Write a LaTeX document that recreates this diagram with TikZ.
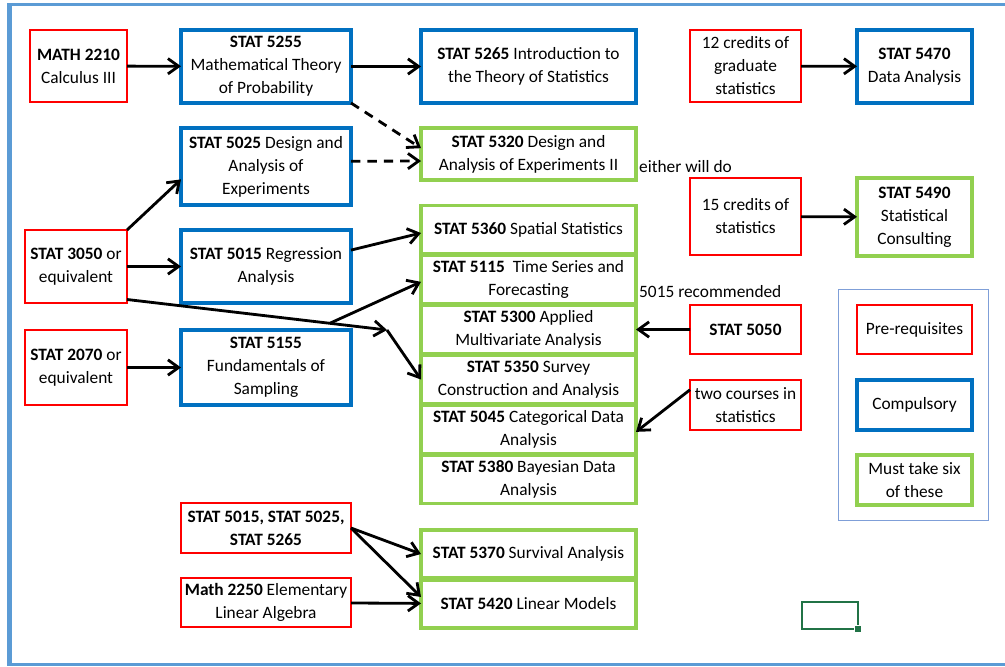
\documentclass[tikz,border=0pt]{standalone}
\usepackage{fontspec}
\setmainfont{Carlito}
\usetikzlibrary{arrows.meta,positioning,calc}

\definecolor{prered}{HTML}{FF0000}
\definecolor{coreblue}{HTML}{0070C0}
\definecolor{electgreen}{HTML}{92D050}
\definecolor{pageblue}{HTML}{5B9BD5}
\definecolor{keyblue}{HTML}{7F9FD8}
\definecolor{cellgreen}{HTML}{217346}

\begin{document}
\begin{tikzpicture}[
        x=0.03cm, y=-0.03cm,
        node distance=0.06cm,
        every node/.style={align=center, inner sep=1pt, outer sep=0pt, font=\fontsize{14.8}{19.6}\selectfont},
        prereq/.style={draw=prered, line width=2.1pt, minimum width=3.33cm},
        course/.style={draw=coreblue, line width=3pt, minimum width=5.1cm},
        elective/.style={draw=electgreen, line width=3pt, minimum width=6.45cm, minimum height=1.44cm},
        req/.style={-{Straight Barb[length=3.2mm,width=4.6mm]}, line width=2.4pt},
        maybe/.style={req, dash pattern=on 8pt off 6pt}
    ]
    \useasboundingbox (0,0) rectangle (1005,666);

    % page frame
    \draw[pageblue, line width=2.5pt] (7,4.5) -- (1005,4.5);
    \draw[pageblue, line width=3.8pt] (9.5,3) -- (9.5,666);
    \draw[pageblue, line width=2.2pt] (7,664.5) -- (1005,664.5);

    % Nodes
    \node[prereq, minimum width=2.91cm, minimum height=2.16cm] (m2210) at (78.5,66) {\textbf{MATH 2210}\\Calculus III};
    \node[course, minimum height=2.19cm] (s5255) at (266,66.5) {\textbf{STAT 5255}\\Mathematical Theory\\of Probability};
    \node[course, minimum width=6.45cm, minimum height=2.19cm] (s5265) at (528.5,66.5) {\textbf{STAT 5265} Introduction to\\the Theory of Statistics};
    \node[prereq, minimum height=2.16cm] (grad12) at (745.5,66) {12 credits of\\graduate\\statistics};
    \node[course, minimum width=3.45cm, minimum height=2.19cm] (s5470) at (914.5,66.5) {\textbf{STAT 5470}\\Data Analysis};

    \node[course, minimum height=2.31cm] (s5025) at (266,166.5) {\textbf{STAT 5025} Design and\\Analysis of\\Experiments};
    \node[elective, minimum height=1.56cm] (s5320) at (528.5,154) {\textbf{STAT 5320} Design and\\Analysis of Experiments II};
    \node[anchor=west] (either) at (638,167) {either will do};
    \node[prereq, minimum height=2.31cm] (stat15) at (745.5,216.5) {15 credits of\\statistics};
    \node[elective, minimum width=3.45cm, minimum height=2.34cm] (s5490) at (914.5,217) {\textbf{STAT 5490}\\Statistical\\Consulting};

    \node[prereq, minimum width=3.06cm, minimum height=2.19cm] (s3050) at (76,266.5) {\textbf{STAT 3050} or\\equivalent};
    \node[course, minimum height=2.19cm] (s5015) at (266,266.5) {\textbf{STAT 5015} Regression\\Analysis};

    % the six electives
    \node[elective] (s5360) at (528.5,229.5) {\textbf{STAT 5360} Spatial Statistics};
    \node[elective, below=of s5360] (s5115) {\textbf{STAT 5115}~ Time Series and\\Forecasting};
    \node[elective, below=of s5115] (s5300) {\textbf{STAT 5300} Applied\\Multivariate Analysis};
    \node[elective, below=of s5300] (s5350) {\textbf{STAT 5350} Survey\\Construction and Analysis};
    \node[elective, below=of s5350] (s5045) {\textbf{STAT 5045} Categorical Data\\Analysis};
    \node[elective, below=of s5045] (s5380) {\textbf{STAT 5380} Bayesian Data\\Analysis};

    \node[anchor=west] (rec) at (638,292) {5015 recommended};
    \node[prereq, minimum height=1.47cm] (s5050) at (745.5,329.5) {\textbf{STAT 5050}};

    \node[prereq, minimum width=3.06cm, minimum height=2.25cm] (s2070) at (76,367.5) {\textbf{STAT 2070} or\\equivalent};
    \node[course, minimum height=2.25cm] (s5155) at (266,367.5) {\textbf{STAT 5155}\\Fundamentals of\\Sampling};
    \node[prereq, minimum height=1.5cm] (two) at (745.5,405) {two courses in\\statistics};

    \node[prereq, minimum width=5.1cm, minimum height=1.5cm] (anyof) at (266,528) {\textbf{STAT 5015, STAT 5025,}\\\textbf{STAT 5265}};
    \node[prereq, minimum width=5.1cm, minimum height=1.47cm] (m2250) at (266,602.5) {\textbf{Math 2250} Elementary\\Linear Algebra};
    \node[elective] (s5370) at (528.5,554) {\textbf{STAT 5370} Survival Analysis};
    \node[elective, below=of s5370] (s5420) {\textbf{STAT 5420} Linear Models};

    % key
    \draw[keyblue, line width=0.7pt] (838,289) rectangle (988,520);
    \node[prereq, minimum width=3.45cm, minimum height=1.47cm] (keypre) at (914.5,329.5) {Pre-requisites};
    \node[course, minimum width=3.45cm, minimum height=1.5cm] (keycore) at (914.5,405) {Compulsory};
    \node[elective, minimum width=3.45cm, minimum height=1.5cm] (keyelect) at (914.5,480) {Must take six\\of these};

    % Connectors
    \coordinate (fork) at (387,330);
    \coordinate (split) at ($([yshift=3pt]s3050.south east)!0.78!(fork)$);

    \draw[req] (m2210) -- (s5255);
    \draw[req] (s5255) -- (s5265);
    \draw[req] (grad12) -- (s5470);
    \draw[req] (stat15) -- (s5490);
    \draw[maybe] (s5255.south east) -- ([yshift=5pt]s5320.west);
    \draw[maybe] ([yshift=4.5pt]s5025.east) -- ([yshift=-6pt]s5320.west);
    \draw[req] (s3050.north east) -- ([yshift=-11pt]s5025.west);
    \draw[req] (s3050) -- (s5015);
    \draw[req] ([yshift=3pt]s3050.south east) -- (fork);
    \draw[req] (fork) -- (s5350.west);
    \draw[req] (split) -- ([yshift=-2pt]s5115.west);
    \draw[req] ([yshift=14pt]s5015.east) -- ([yshift=-3pt]s5360.west);
    \draw[req] (s2070) -- (s5155);
    \draw[req] (s5050) -- (s5300);
    \draw[req] ([yshift=13pt]two.west) -- ([yshift=-2pt]s5045.east);
    \draw[req] (anyof.east) -- (s5370.west);
    \draw[req] (anyof.east) -- ([yshift=6pt]s5420.west);
    \draw[req] (m2250) -- (s5420);

    % selected cell
    \draw[cellgreen, line width=1.5pt] (802,602) rectangle (858,629);
    \filldraw[fill=cellgreen, draw=white, line width=0.8pt] (854.5,625) rectangle (861.5,632);

\end{tikzpicture}
\end{document}
